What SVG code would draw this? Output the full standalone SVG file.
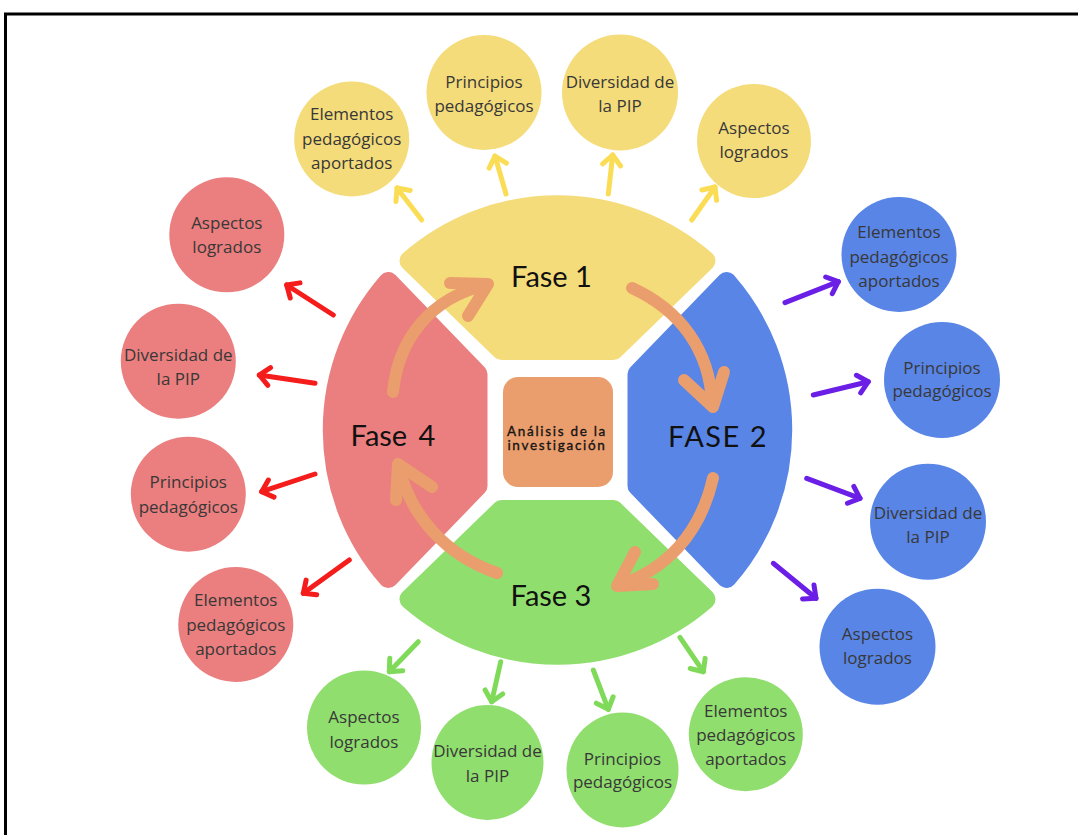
<svg xmlns="http://www.w3.org/2000/svg" width="1078" height="835" viewBox="0 0 1078 835">
<style>
.lbl{font-family:"Open Sans","Liberation Sans",sans-serif;font-size:17px;fill:#383838;text-anchor:middle}
.ph{font-family:Lato,"Liberation Sans",sans-serif;font-size:29px;fill:#111;text-anchor:middle}
.ctr{font-family:Lato,"Liberation Sans",sans-serif;font-size:13.5px;fill:#151515;stroke:#151515;stroke-width:0.35px;text-anchor:middle;letter-spacing:1.7px}
.y{fill:#F5DC7A}.b{fill:#5885E6}.g{fill:#90DE6E}.r{fill:#EB7E7E}
.seg{stroke-width:20;stroke-linejoin:round}
.ya{stroke:#FADD55}.ba{stroke:#6B1FE6}.ga{stroke:#80DA5A}.ra{stroke:#F51C1C}
.ln{stroke-width:5;stroke-linecap:round;fill:none}
.oa{stroke:#EB9E6D;stroke-width:12;stroke-linecap:round;stroke-linejoin:round;fill:none}
</style>
<defs>
<marker id="mY" markerUnits="userSpaceOnUse" viewBox="-16 -14 20 28" refX="0" refY="0" markerWidth="20" markerHeight="28" orient="auto"><path d="M-10,-9 L0,0 L-10,9" fill="none" stroke="#FADD55" stroke-width="5" stroke-linecap="round" stroke-linejoin="round"/></marker>
<marker id="mB" markerUnits="userSpaceOnUse" viewBox="-16 -14 20 28" refX="0" refY="0" markerWidth="20" markerHeight="28" orient="auto"><path d="M-10,-9 L0,0 L-10,9" fill="none" stroke="#6B1FE6" stroke-width="5" stroke-linecap="round" stroke-linejoin="round"/></marker>
<marker id="mG" markerUnits="userSpaceOnUse" viewBox="-16 -14 20 28" refX="0" refY="0" markerWidth="20" markerHeight="28" orient="auto"><path d="M-10,-9 L0,0 L-10,9" fill="none" stroke="#80DA5A" stroke-width="5" stroke-linecap="round" stroke-linejoin="round"/></marker>
<marker id="mR" markerUnits="userSpaceOnUse" viewBox="-16 -14 20 28" refX="0" refY="0" markerWidth="20" markerHeight="28" orient="auto"><path d="M-10,-9 L0,0 L-10,9" fill="none" stroke="#F51C1C" stroke-width="5" stroke-linecap="round" stroke-linejoin="round"/></marker>
</defs>
<rect width="1078" height="835" fill="#fff"/>
<path d="M5.5,835 V14 H1078" fill="none" stroke="#000" stroke-width="3"/>

<g id="fase1"><path class="y seg" stroke="#F5DC7A" d="M409.5,260.8 A225,225 0 0 1 705.5,260.8 L613.4,350 L501.6,350 Z"/><text class="ph" x="551.5" y="287">Fase 1</text></g>
<g id="fase2"><path class="b seg" stroke="#5885E6" d="M726.7,282 A225,225 0 0 1 726.7,578 L637.5,485.9 L637.5,374.1 Z"/><text class="ph" x="718" y="447" style="letter-spacing:1.5px">FASE 2</text></g>
<g id="fase3"><path class="g seg" stroke="#90DE6E" d="M705.5,599.2 A225,225 0 0 1 409.5,599.2 L501.6,510 L613.4,510 Z"/><text class="ph" x="551" y="606">Fase 3</text></g>
<g id="fase4"><path class="r seg" stroke="#EB7E7E" d="M388.3,578 A225,225 0 0 1 388.3,282 L477.5,374.1 L477.5,485.9 Z"/><text class="ph" x="393" y="446" style="word-spacing:4px">Fase 4</text></g>
<g id="centro"><rect x="503" y="377" width="110" height="110" rx="15" fill="#EB9E6D"/><text class="ctr" x="557" y="435.5">Análisis de la</text><text class="ctr" x="557" y="449.5">investigación</text></g>

<g id="y1"><circle class="y" cx="351.7" cy="139" r="57.5"/><text class="lbl" x="351.7" y="120">Elementos</text><text class="lbl" x="351.7" y="145">pedagógicos</text><text class="lbl" x="351.7" y="169">aportados</text></g>
<g id="y2"><circle class="y" cx="484" cy="92.5" r="57.5"/><text class="lbl" x="484" y="88">Principios</text><text class="lbl" x="484" y="112">pedagógicos</text></g>
<g id="y3"><circle class="y" cx="620" cy="92.5" r="58"/><text class="lbl" x="620" y="88">Diversidad de</text><text class="lbl" x="620" y="112">la PIP</text></g>
<g id="y4"><circle class="y" cx="754" cy="141" r="57"/><text class="lbl" x="754" y="134">Aspectos</text><text class="lbl" x="754" y="158">logrados</text></g>

<g id="b1"><circle class="b" cx="899" cy="254.5" r="57.5"/><text class="lbl" x="899" y="237.7">Elementos</text><text class="lbl" x="899" y="262.7">pedagógicos</text><text class="lbl" x="899" y="286.7">aportados</text></g>
<g id="b2"><circle class="b" cx="942" cy="380" r="58"/><text class="lbl" x="942" y="374">Principios</text><text class="lbl" x="942" y="397.3">pedagógicos</text></g>
<g id="b3"><circle class="b" cx="928" cy="521.7" r="58"/><text class="lbl" x="928" y="519.3">Diversidad de</text><text class="lbl" x="928" y="543.3">la PIP</text></g>
<g id="b4"><circle class="b" cx="877.5" cy="646.7" r="58"/><text class="lbl" x="877.5" y="640">Aspectos</text><text class="lbl" x="877.5" y="664">logrados</text></g>

<g id="g1"><circle class="g" cx="364" cy="727.5" r="57"/><text class="lbl" x="364" y="723.3">Aspectos</text><text class="lbl" x="364" y="748.3">logrados</text></g>
<g id="g2"><ellipse class="g" cx="487.5" cy="762.5" rx="56" ry="57.5"/><text class="lbl" x="487.5" y="757.3">Diversidad de</text><text class="lbl" x="487.5" y="781.7">la PIP</text></g>
<g id="g3"><ellipse class="g" cx="622.5" cy="770" rx="56" ry="57.5"/><text class="lbl" x="622.5" y="765">Principios</text><text class="lbl" x="622.5" y="788.3">pedagógicos</text></g>
<g id="g4"><circle class="g" cx="745.8" cy="734.2" r="57"/><text class="lbl" x="745.8" y="716.7">Elementos</text><text class="lbl" x="745.8" y="740.7">pedagógicos</text><text class="lbl" x="745.8" y="765">aportados</text></g>

<g id="r1"><circle class="r" cx="226.8" cy="234.8" r="57.5"/><text class="lbl" x="226.8" y="229.3">Aspectos</text><text class="lbl" x="226.8" y="253.3">logrados</text></g>
<g id="r2"><circle class="r" cx="178.3" cy="361.2" r="57.5"/><text class="lbl" x="178.3" y="360.7">Diversidad de</text><text class="lbl" x="178.3" y="385">la PIP</text></g>
<g id="r3"><circle class="r" cx="188.3" cy="494.2" r="57.5"/><text class="lbl" x="188.3" y="488.3">Principios</text><text class="lbl" x="188.3" y="513.3">pedagógicos</text></g>
<g id="r4"><circle class="r" cx="235.8" cy="624.5" r="57.5"/><text class="lbl" x="235.8" y="606">Elementos</text><text class="lbl" x="235.8" y="630.7">pedagógicos</text><text class="lbl" x="235.8" y="655">aportados</text></g>

<g id="connectors">
<path class="oa" d="M393,392 C398,340 430,298 486,285"/>
<path class="oa" d="M450,283 L488,284 L468,316"/>
<path class="oa" d="M632,288 C680,310 710,350 712,404"/>
<path class="oa" d="M684,380 L713,407 L724,372"/>
<path class="oa" d="M713,478 C700,535 665,570 619,585"/>
<path class="oa" d="M635,552 L617,586 L653,584"/>
<path class="oa" d="M497,573 C445,555 410,515 399,467"/>
<path class="oa" d="M432,487 L398,464 L396,500"/>

<line class="ln ya" x1="421.7" y1="220" x2="397" y2="188" marker-end="url(#mY)"/>
<line class="ln ya" x1="506" y1="194" x2="495" y2="156" marker-end="url(#mY)"/>
<line class="ln ya" x1="608.3" y1="194" x2="612.7" y2="155" marker-end="url(#mY)"/>
<line class="ln ya" x1="691.7" y1="220" x2="715" y2="187" marker-end="url(#mY)"/>

<line class="ln ba" x1="785" y1="302.7" x2="838.3" y2="281.7" marker-end="url(#mB)"/>
<line class="ln ba" x1="813.3" y1="395" x2="868.3" y2="381.7" marker-end="url(#mB)"/>
<line class="ln ba" x1="806.7" y1="478.3" x2="860" y2="498.3" marker-end="url(#mB)"/>
<line class="ln ba" x1="773.3" y1="563.3" x2="816" y2="598.3" marker-end="url(#mB)"/>

<line class="ln ra" x1="333.3" y1="315" x2="286.7" y2="285" marker-end="url(#mR)"/>
<line class="ln ra" x1="315" y1="383.3" x2="259.3" y2="375" marker-end="url(#mR)"/>
<line class="ln ra" x1="315" y1="474" x2="261.7" y2="491.7" marker-end="url(#mR)"/>
<line class="ln ra" x1="349.3" y1="560" x2="303.3" y2="593.3" marker-end="url(#mR)"/>

<line class="ln ga" x1="418.3" y1="641.7" x2="389.3" y2="671.7" marker-end="url(#mG)"/>
<line class="ln ga" x1="500.7" y1="661.7" x2="491.7" y2="701.7" marker-end="url(#mG)"/>
<line class="ln ga" x1="593.3" y1="670" x2="608.3" y2="709.3" marker-end="url(#mG)"/>
<line class="ln ga" x1="680" y1="637.3" x2="703.3" y2="671.7" marker-end="url(#mG)"/>
</g>
</svg>
